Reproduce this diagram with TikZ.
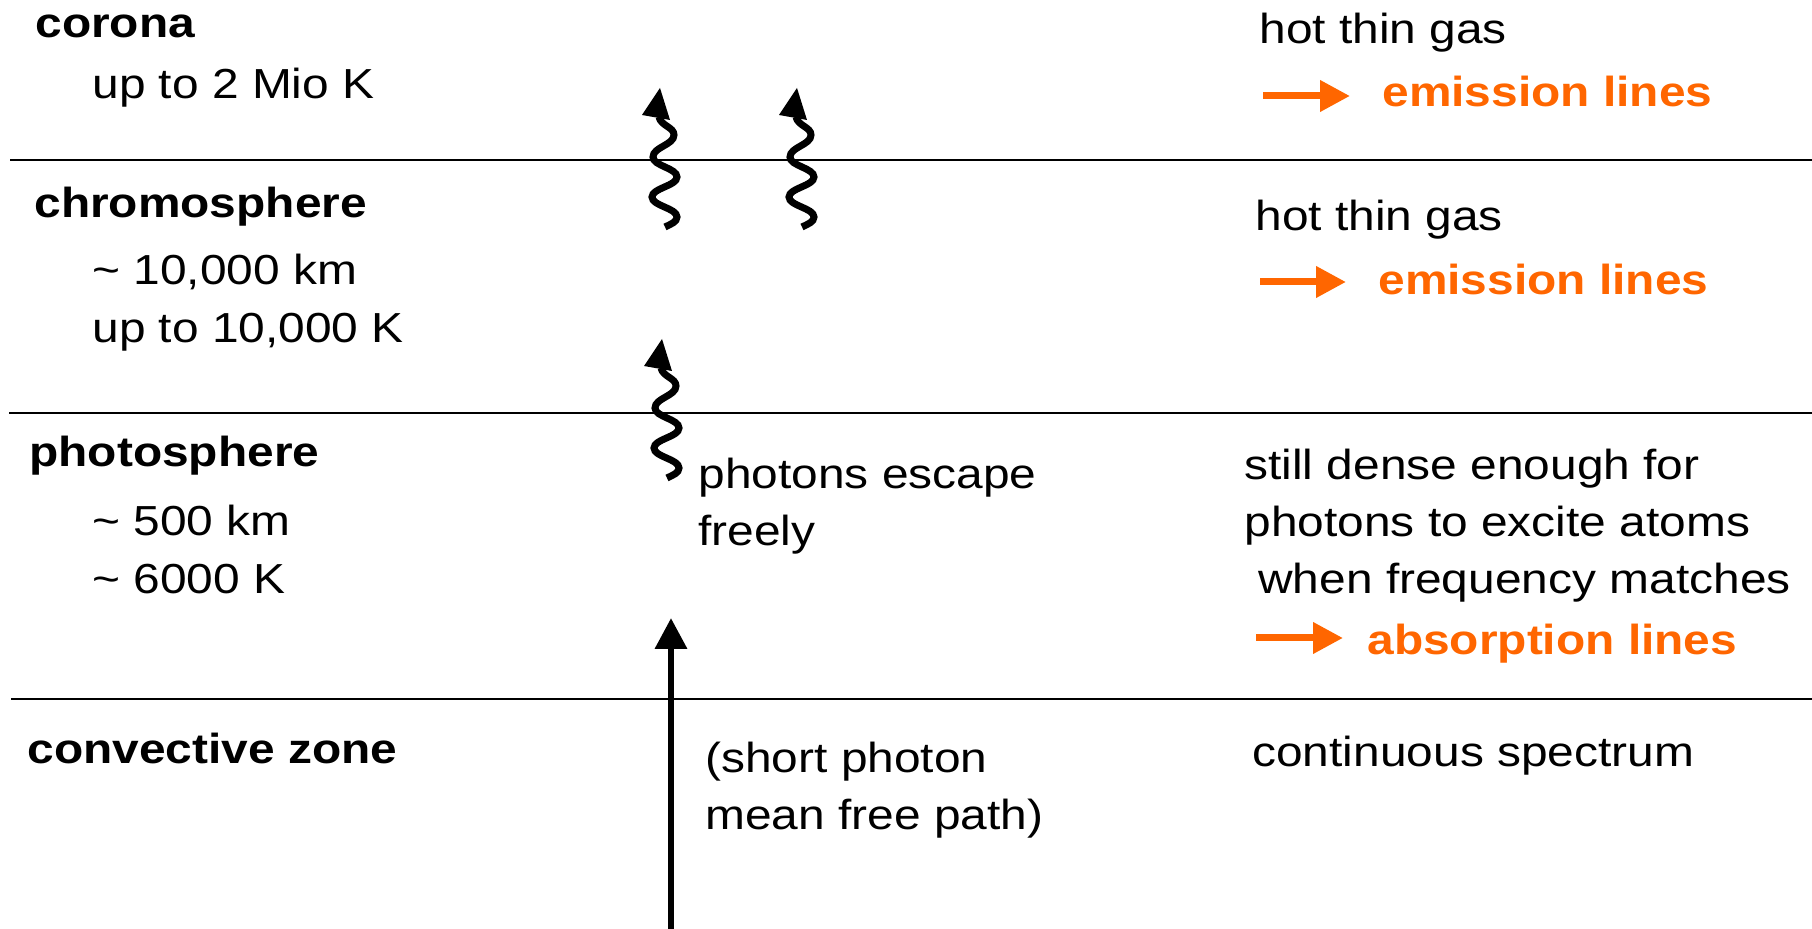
\documentclass[tikz,border=0pt]{standalone}
\usepackage{fontspec}
\setmainfont[FakeStretch=1.14]{Liberation Sans}
\usetikzlibrary{arrows.meta}
\definecolor{lineorange}{HTML}{FF6600}
\begin{document}
\begin{tikzpicture}[x=0.5pt,y=-0.5pt,
  txt/.style={anchor=base west, inner sep=0pt, font=\fontsize{21}{25}\selectfont},
  layername/.style={txt, font=\fontsize{21}{25}\selectfont\bfseries},
  result/.style={layername, text=lineorange},
  layer/.style={line width=1pt},
  hint/.style={line width=3.5pt, lineorange, -{Triangle[length=15pt,width=15pt]}},
  ray/.style={line width=3.3pt, -{Triangle[length=15.5pt,width=15.5pt]}},
  photon/.pic={
    \draw[line width=3.5pt] (0,0) .. controls (6,-3) and (12,-5) .. (12,-10)
      .. controls (12,-19) and (-13,-21) .. (-13,-30)
      .. controls (-13,-39) and (12,-41) .. (12,-50)
      .. controls (12,-59) and (-12,-61) .. (-12,-70)
      .. controls (-12,-80) and (9,-82) .. (9,-92)
      .. controls (9,-100) and (-4,-101) .. (-6,-110);
    \fill (-5,-139) -- (-23,-112) -- (5,-107) -- cycle;
  }]
\useasboundingbox (0,0) rectangle (1812,929);

% layer boundaries
\coordinate (b1w) at (10,160);  \coordinate (b1e) at (1812,160);
\coordinate (b2w) at (9,413);   \coordinate (b2e) at (1812,413);
\coordinate (b3w) at (11,699);  \coordinate (b3e) at (1812,699);
\draw[layer] (b1w) -- (b1e);
\draw[layer] (b2w) -- (b2e);
\draw[layer] (b3w) -- (b3e);

% left column: layers and their data
\node[layername] (corona) at (35,38) {corona};
\node[txt] (coronaT) at (92,99) {up to 2 Mio K};
\node[layername] (chromo) at (34,218) {chromosphere};
\node[txt] (chromoD) at (92,285) {\char`~\ 10,000 km};
\node[txt] (chromoT) at (92,343) {up to 10,000 K};
\node[layername] (photo) at (29,467) {photosphere};
\node[txt] (photoD) at (92,536) {\char`~\ 500 km};
\node[txt] (photoT) at (92,594) {\char`~\ 6000 K};
\node[layername] (conv) at (27,764) {convective zone};

% middle column: photon paths
\pic at (665,227) {photon};
\pic at (802,227) {photon};
\pic at (667,478) {photon};
\coordinate (rayfoot) at (671,935);
\coordinate (raytop) at (671,618);
\draw[ray] (rayfoot) -- (raytop);
\node[txt] (escape1) at (698,489) {photons escape};
\node[txt] (escape2) at (698,546) {freely};
\node[txt] (mfp1) at (705,773) {(short photon};
\node[txt] (mfp2) at (705,830) {mean free path)};

% right column: spectra
\node[txt] (gas1) at (1259,44) {hot thin gas};
\coordinate (h1a) at (1263,96); \coordinate (h1b) at (1350,96);
\draw[hint] (h1a) -- (h1b);
\node[result] (em1) at (1382,107) {emission lines};

\node[txt] (gas2) at (1255,231) {hot thin gas};
\coordinate (h2a) at (1260,282); \coordinate (h2b) at (1346,282);
\draw[hint] (h2a) -- (h2b);
\node[result] (em2) at (1378,295) {emission lines};

\node[txt] (dense1) at (1244,480) {still dense enough for};
\node[txt] (dense2) at (1244,537) {photons to excite atoms};
\node[txt] (dense3) at (1258,594) {when frequency matches};
\coordinate (h3a) at (1256,638); \coordinate (h3b) at (1343,638);
\draw[hint] (h3a) -- (h3b);
\node[result] (abs) at (1367,655) {absorption lines};

\node[txt] (cont) at (1252,767) {continuous spectrum};
\end{tikzpicture}
\end{document}
